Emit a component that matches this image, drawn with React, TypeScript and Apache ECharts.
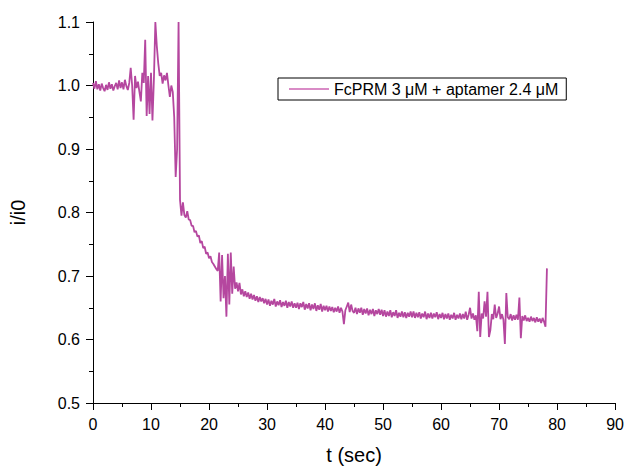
import React, { useEffect, useRef } from "react";
import * as echarts from "echarts";

const seriesName = "FcPRM 3 μM + aptamer 2.4 μM";
const sampleStart = 0;
const sampleStep = 0.25; // seconds between samples
// i/i0 values, one row per 5 seconds
const ratioValues: number[] = [
  1.004, 0.995, 1.007, 0.994, 1.002, 0.992, 1.003, 0.996, 0.991, 1.001, 0.993, 1.005, 0.995, 1.002, 0.992, 0.999, 1.004, 0.994, 1.008, 0.996,
  1.005, 0.994, 1.009, 0.999, 0.993, 1.004, 1.028, 1.0, 0.946, 1.015, 0.996, 1.006, 0.99, 0.975, 1.02, 1.004, 1.072, 0.952, 1.015, 0.955,
  1.02, 0.945, 1.01, 1.1, 1.062, 1.035, 1.015, 1.02, 1.003, 1.016, 1.008, 1.02, 1.0, 0.982, 1.0, 0.99, 0.95, 0.856, 0.9, 1.1,
  0.82, 0.795, 0.816, 0.796, 0.792, 0.802, 0.789, 0.788, 0.779, 0.779, 0.769, 0.771, 0.762, 0.764, 0.752, 0.755, 0.744, 0.746, 0.735, 0.737,
  0.728, 0.731, 0.722, 0.719, 0.715, 0.711, 0.708, 0.737, 0.66, 0.733, 0.665, 0.7, 0.636, 0.735, 0.655, 0.737, 0.672, 0.715, 0.68, 0.69,
  0.676, 0.689, 0.671, 0.679, 0.668, 0.676, 0.667, 0.674, 0.664, 0.672, 0.663, 0.67, 0.661, 0.668, 0.659, 0.667, 0.66, 0.665, 0.657, 0.664,
  0.655, 0.663, 0.653, 0.661, 0.655, 0.664, 0.652, 0.66, 0.654, 0.662, 0.651, 0.659, 0.653, 0.661, 0.65, 0.659, 0.652, 0.66, 0.65, 0.657,
  0.65, 0.658, 0.648, 0.657, 0.651, 0.659, 0.647, 0.656, 0.649, 0.657, 0.646, 0.655, 0.648, 0.657, 0.645, 0.654, 0.647, 0.656, 0.644, 0.653,
  0.646, 0.653, 0.644, 0.652, 0.645, 0.651, 0.643, 0.65, 0.644, 0.652, 0.642, 0.65, 0.644, 0.624, 0.646, 0.652, 0.658, 0.643, 0.655, 0.645,
  0.642, 0.65, 0.64, 0.649, 0.642, 0.65, 0.639, 0.648, 0.641, 0.649, 0.638, 0.647, 0.64, 0.648, 0.637, 0.646, 0.64, 0.648, 0.639, 0.647,
  0.637, 0.646, 0.636, 0.644, 0.637, 0.646, 0.635, 0.643, 0.637, 0.646, 0.634, 0.642, 0.636, 0.644, 0.635, 0.643, 0.634, 0.642, 0.636, 0.644,
  0.635, 0.644, 0.634, 0.642, 0.635, 0.643, 0.633, 0.641, 0.635, 0.644, 0.632, 0.641, 0.634, 0.642, 0.633, 0.641, 0.635, 0.643, 0.632, 0.64,
  0.634, 0.642, 0.632, 0.64, 0.633, 0.641, 0.631, 0.639, 0.633, 0.642, 0.631, 0.639, 0.633, 0.641, 0.632, 0.64, 0.633, 0.644, 0.631, 0.639,
  0.65, 0.633, 0.641, 0.631, 0.638, 0.613, 0.675, 0.604, 0.641, 0.633, 0.66, 0.636, 0.675, 0.604, 0.615, 0.64, 0.632, 0.655, 0.634, 0.641,
  0.652, 0.632, 0.64, 0.631, 0.593, 0.673, 0.635, 0.632, 0.64, 0.63, 0.638, 0.631, 0.639, 0.631, 0.666, 0.602, 0.637, 0.63, 0.638, 0.629,
  0.634, 0.628, 0.636, 0.629, 0.634, 0.627, 0.635, 0.628, 0.633, 0.626, 0.634, 0.628, 0.62, 0.712,
];

const xTicks = { min: 0, max: 90, interval: 10 };
const yTicks = { min: 0.5, max: 1.1, interval: 0.1 };

export default function App() {
  const ref = useRef<HTMLDivElement>(null);
  useEffect(() => {
    if (!ref.current) return;
    const chart = echarts.init(ref.current, undefined, { renderer: "svg" });
    const data = ratioValues.map((v, i) => [sampleStart + i * sampleStep, v]);
    const font = "'Liberation Sans', Arial, sans-serif";
    const axisCommon = {
      axisLine: { show: true, onZero: false, lineStyle: { color: "#000", width: 1 } },
      axisTick: { show: true, inside: false, length: 7, lineStyle: { color: "#000" } },
      minorTick: { show: true, splitNumber: 2, length: 4, lineStyle: { color: "#000" } },
      splitLine: { show: false },
      axisLabel: { color: "#000", fontSize: 16, fontFamily: font },
      nameTextStyle: { color: "#000", fontSize: 20, fontFamily: font },
    };
    chart.setOption({
      animation: false,
      backgroundColor: "#fff",
      grid: { left: 93, right: 7, top: 22, bottom: 60, containLabel: false },
      legend: {
        left: 278,
        top: 78,
        orient: "horizontal",
        padding: [2, 8, 2, 11],
        borderColor: "#000",
        borderWidth: 1,
        borderRadius: 0,
        icon: "rect",
        itemWidth: 40,
        itemHeight: 2,
        itemGap: 5,
        textStyle: { color: "#000", fontSize: 16, fontFamily: font, lineHeight: 18 },
        data: [{ name: seriesName, itemStyle: { color: "#d98bc6" } }],
      },
      xAxis: {
        type: "value",
        ...xTicks,
        name: "t (sec)",
        nameLocation: "middle",
        nameGap: 42,
        ...axisCommon,
        axisLabel: { ...axisCommon.axisLabel, margin: 13 },
      },
      yAxis: {
        type: "value",
        ...yTicks,
        name: "i/i0",
        nameLocation: "middle",
        nameGap: 65,
        ...axisCommon,
        axisLabel: {
          ...axisCommon.axisLabel,
          margin: 13,
          formatter: (v: number) => v.toFixed(1),
        },
      },
      series: [
        {
          name: seriesName,
          type: "line",
          data,
          showSymbol: false,
          symbol: "none",
          clip: false,
          lineStyle: { color: "#b5479f", width: 1.8 },
          itemStyle: { color: "#b5479f" },
        },
      ],
    });
    return () => chart.dispose();
  }, []);
  return (
    <div
      ref={ref}
      style={{ position: "absolute", left: 0, top: 0, width: 627, height: 470 }}
    />
  );
}
